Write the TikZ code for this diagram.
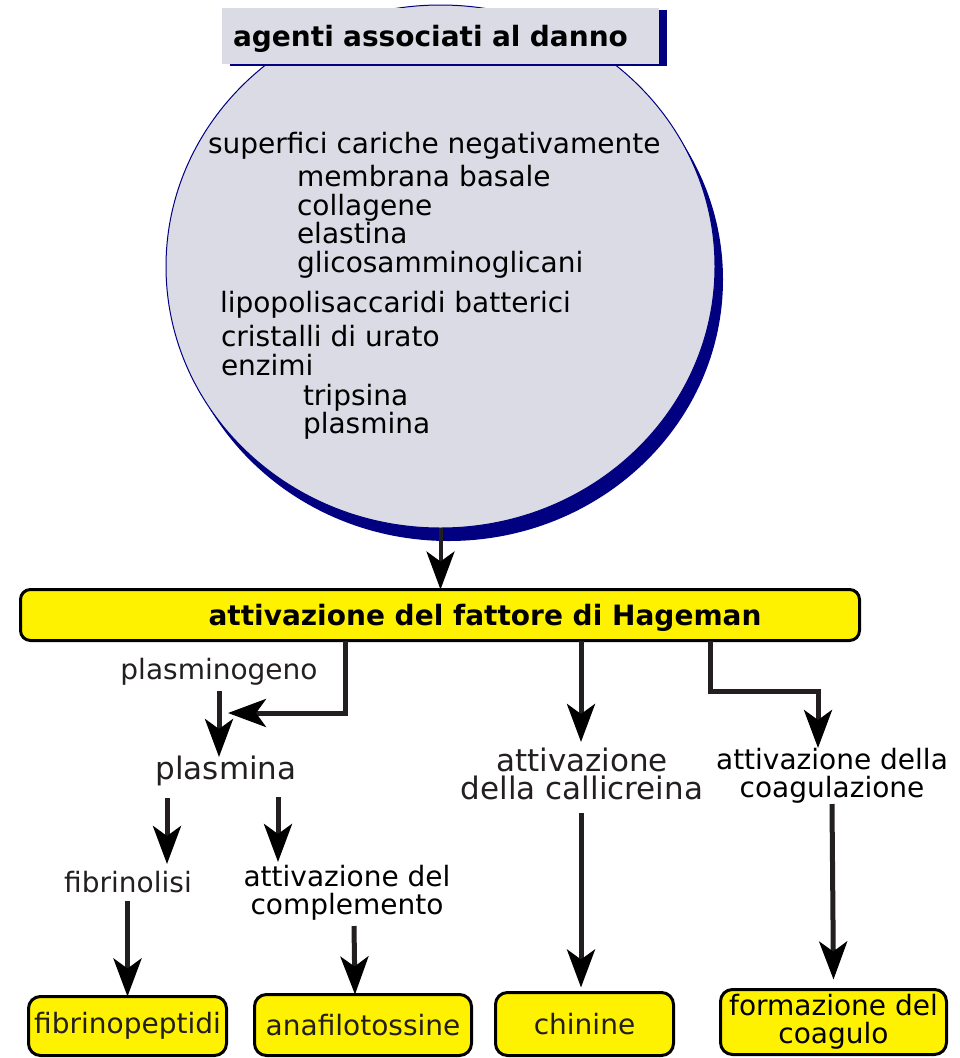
\documentclass[tikz,border=0pt]{standalone}
\usepackage{fontspec}
\setmainfont{DejaVu Sans}
\usetikzlibrary{shapes.geometric,shadows,arrows.meta,calc,positioning}

\definecolor{circfill}{RGB}{219,219,229}
\definecolor{navyblue}{RGB}{0,0,128}
\definecolor{boxyellow}{RGB}{255,242,0}
\definecolor{linegray}{RGB}{35,31,32}

\begin{document}
\begin{tikzpicture}
        [ x=1pt, y=-1pt,
          every node/.style = {inner sep=0pt, outer sep=0pt},
          label node/.style = {font=\fontsize{28}{28}\selectfont, text=linegray, align=center,
                               text height=21pt, text depth=7pt},
          big node/.style = {font=\fontsize{31}{28}\selectfont, text=linegray, align=center},
          two node/.style = {font=\fontsize{28}{28.5}\selectfont, text=black, align=center},
          list node/.style = {anchor=base west, font=\fontsize{28}{28}\selectfont},
          result node/.style = {draw=black, line width=3pt, fill=boxyellow, rounded corners=12pt,
                                font=\fontsize{28}{28}\selectfont, align=center},
          arr/.style = {draw=linegray, line width=5pt,
                        -{Stealth[length=38pt,width=28pt,inset=10pt,color=black]}},
          thin arr/.style = {arr, line width=4pt}]
        \useasboundingbox (0,0) rectangle (960,1058);

        % agenti associati al danno
        \node[ellipse, minimum width=549pt, minimum height=523pt, fill=circfill,
              draw=navyblue, line width=1pt,
              drop shadow={shadow xshift=8pt, shadow yshift=-13pt, fill=navyblue, opacity=1}]
              (danno) at (440.5,266.5) {};
        \node[anchor=north west, fill=circfill, minimum height=56pt, text width=415pt,
              inner xsep=11pt, align=left, font=\fontsize{28}{28}\selectfont\bfseries,
              text depth=0pt,
              drop shadow={shadow xshift=8pt, shadow yshift=-2pt, fill=navyblue, opacity=1}]
              (titolo) at (222,8) {agenti associati al danno};

        \node[list node] (superfici) at (208,153) {superfici cariche negativamente};
        \node[list node] (membrana) at (297,186) {membrana basale};
        \node[list node] (collagene) at (297,215) {collagene};
        \node[list node] (elastina) at (297,243) {elastina};
        \node[list node] (glicos) at (297,272) {glicosamminoglicani};
        \node[list node] (lipo) at (220,312) {lipopolisaccaridi batterici};
        \node[list node] (urato) at (221,346) {cristalli di urato};
        \node[list node] (enzimi) at (221,375) {enzimi};
        \node[list node] (tripsina) at (303,405) {tripsina};
        \node[list node] (plasm) at (303,433) {plasmina};

        % fattore di Hageman
        \node[result node, minimum width=839pt, minimum height=51pt, rounded corners=10pt,
              font=\fontsize{28}{28}\selectfont\bfseries, text depth=0pt]
              (hageman) at (440,615) {\hspace*{90pt}attivazione del fattore di Hageman};

        \node[label node] (plasminogeno) at (219,672) {plasminogeno};
        \node[big node, text height=23.5pt, text depth=7.3pt] (plasmina) at (226,771) {plasmina};
        \node[label node] (fibrinolisi) at (128,885) {fibrinolisi};
        \node[two node] (complemento) at (347,893) {attivazione del\\complemento};
        \node[big node] (callicreina) at (582,774) {attivazione\\della callicreina};
        \node[two node] (coagulazione) at (832,776) {attivazione della\\coagulazione};

        \node[result node, minimum width=198pt, minimum height=59pt, text=linegray]
              (fibrinopeptidi) at (127.5,1026) {fibrinopeptidi};
        \node[result node, minimum width=217pt, minimum height=61pt, text=linegray]
              (anafilotossine) at (363,1025) {anafilotossine};
        \node[result node, minimum width=178pt, minimum height=63pt, text=linegray]
              (chinine) at (584.5,1024) {chinine};
        \node[result node, minimum width=226pt, minimum height=65pt]
              (formazione) at (833.5,1022) {formazione del\\coagulo};

        % connettori
        \coordinate (plasmbend) at (228,713);
        \coordinate (coagbend) at (818,691);
        \draw[thin arr] (danno.south) -- (danno.south |- hageman.north);
        \draw[arr] ([xshift=-95]hageman.south) |- (plasmbend);
        \draw[arr] ($(plasminogeno)+(0,19)$) -- ($(plasmina)+(-7,-14)$);
        \draw[arr] ($(plasmina)+(-59,27)$) -- ($(fibrinolisi)+(39,-21)$);
        \draw[arr] ($(plasmina)+(52,26)$) -- ($(complemento)+(-69,-31)$);
        \draw[arr] ($(fibrinolisi)+(-0.5,16)$) -- (fibrinopeptidi.north);
        \draw[arr] ($(complemento)+(7,33)$) -- ([xshift=-8]anafilotossine.north);
        \draw[arr] ([xshift=141]hageman.south) -- ($(callicreina)+(-1,-32)$);
        \draw[arr] ($(callicreina)+(-1,39)$) -- ([xshift=-3.5,yshift=5]chinine.north);
        \draw[arr] ([xshift=270]hageman.south) |- (coagbend) -- ($(coagulazione)+(-14,-28)$);
        \draw[arr] ($(coagulazione)+(0,28)$) -- ([yshift=10]formazione.north);
\end{tikzpicture}
\end{document}
